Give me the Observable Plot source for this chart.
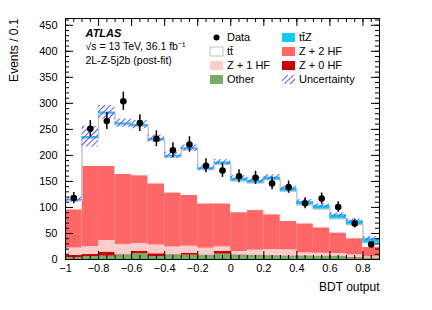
<!DOCTYPE html>
<html><head><meta charset="utf-8">
<script src="https://cdn.jsdelivr.net/npm/d3@7"></script>
<script src="https://cdn.jsdelivr.net/npm/@observablehq/plot@0.6"></script>
<style>body{margin:0;background:#fff;}</style>
</head><body><div id="chart"></div>
<script>
// ---- data ----
const binLow = [-1.0,-0.9,-0.8,-0.7,-0.6,-0.5,-0.4,-0.3,-0.2,-0.1,0.0,0.1,0.2,0.3,0.4,0.5,0.6,0.7,0.8];
const binWidth = 0.1;
const other   = [3.3,5.8,6.4,9.0,11.0,5.8,9.0,8.3,7.7,10.3,8.3,7.7,7.0,6.4,6.4,5.8,5.8,3.3,2.5];
const zPlus0HF= [4.4,3.8,7.6,0.5,4.4,5.2,0.5,3.7,0.8,5.1,0.7,0.6,0.5,0.6,0.6,0.7,0.6,0.7,0.5];
const zPlus1HF= [14.3,15.4,22.5,19.5,15.4,17.0,14.5,13.6,13.3,9.0,6.4,9.7,11.5,11.6,5.8,5.5,5.1,5.0,2.0];
const zPlus2HF= [73.5,154,142.5,134.5,130.2,117.5,104,97.4,85.2,82.6,74.6,76,67,54.4,55.8,49,39.5,31,18];
const ttbar   = [17.5,54,101,95.5,95,83.5,69,88,66,76,61,53,67,58,36.4,36,27.5,27,9];
const ttZ     = [2,3,3,3,3,3,3,3,3,4,5,5,5,6,6,6,7,7,8];
const uncertainty = [5,20,13,8,8,7,6,6,5,5,5,5,5,4,4,4,4,4,4];
const dataCounts = [118,251,266,304,262,232,210,221,180,171,160,157,146,139,108,117,101,69,29];

const xMajorTicks = [-1,-0.8,-0.6,-0.4,-0.2,0,0.2,0.4,0.6,0.8];
const yMajorTicks = [0,50,100,150,200,250,300,350,400,450];
const xMinorTicks = d3.range(-1, 0.9001, 0.05).map(v => +v.toFixed(2));
const yMinorTicks = d3.range(0, 461, 10);

const seriesOrder = [
  {name: "Other",   values: other,    fill: "#78ad68"},
  {name: "Z + 0 HF",values: zPlus0HF, fill: "#cc0000"},
  {name: "Z + 1 HF",values: zPlus1HF, fill: "#ffcccc"},
  {name: "Z + 2 HF",values: zPlus2HF, fill: "#ff6666"},
  {name: "tt̄",      values: ttbar,    fill: "#ffffff"},
  {name: "tt̄Z",     values: ttZ,      fill: "#14c8ff"}
];

// cumulative stack
const rects = [];
const tops = binLow.map(() => 0);
seriesOrder.forEach(s => {
  binLow.forEach((lo, i) => {
    const y1 = tops[i];
    const y2 = y1 + s.values[i];
    rects.push({series: s.name, fill: s.fill, x1: lo, x2: +(lo + binWidth).toFixed(2), y1, y2});
    tops[i] = y2;
  });
});
const ttbarTop = binLow.map((lo, i) => tops[i] - ttZ[i]);
const stepPts = binLow.map((lo, i) => ({x: lo, y: ttbarTop[i]}));
stepPts.push({x: +(binLow[binLow.length-1] + binWidth).toFixed(2), y: ttbarTop[ttbarTop.length-1]});
const band = binLow.map((lo, i) => ({x1: lo, x2: +(lo + binWidth).toFixed(2), y1: tops[i] - uncertainty[i], y2: tops[i] + uncertainty[i]}));
const points = binLow.map((lo, i) => ({x: +(lo + binWidth/2).toFixed(3), y: dataCounts[i], e: Math.sqrt(dataCounts[i])}));

const W = 432, H = 310, mL = 65, mR = 53, mT = 18, mB = 51;
const fw = W - mL - mR, fh = H - mT - mB;
const fmt = d3.format("");
const hatchColor = "#5a5aff";

const plot = Plot.plot({
  width: W, height: H,
  marginLeft: mL, marginRight: mR, marginTop: mT, marginBottom: mB,
  style: {fontFamily: "'Liberation Sans', Arial, sans-serif", fontSize: "11px", background: "white", color: "black"},
  x: {domain: [-1, 0.9]},
  y: {domain: [0, 463]},
  marks: [
    Plot.rect(rects, {x1: "x1", x2: "x2", y1: "y1", y2: "y2", fill: "fill"}),
    Plot.line(stepPts, {x: "x", y: "y", curve: "step-after", stroke: "#c8c8c8", strokeWidth: 1.5}),
    Plot.rect(rects.filter(r => r.series === "tt̄Z"), {x1: "x1", x2: "x2", y1: "y1", y2: "y2", fill: "fill"}),
    Plot.rect(band, {x1: "x1", x2: "x2", y1: "y1", y2: "y2", fill: "url(#hatchBlue)"}),
    Plot.ruleX(points, {x: "x", y1: d => d.y - d.e, y2: d => d.y + d.e, stroke: "black", strokeWidth: 1.5}),
    Plot.dot(points, {x: "x", y: "y", r: 3.3, fill: "black"}),
    // ticks (inside, all sides)
    Plot.ruleX(xMinorTicks, {insetTop: fh - 4, stroke: "black"}),
    Plot.ruleX(xMinorTicks, {insetBottom: fh - 4, stroke: "black"}),
    Plot.ruleX(xMajorTicks, {insetTop: fh - 8, stroke: "black"}),
    Plot.ruleX(xMajorTicks, {insetBottom: fh - 8, stroke: "black"}),
    Plot.ruleY(yMinorTicks, {insetRight: fw - 4, stroke: "black"}),
    Plot.ruleY(yMinorTicks, {insetLeft: fw - 4, stroke: "black"}),
    Plot.ruleY(yMajorTicks, {insetRight: fw - 8, stroke: "black"}),
    Plot.ruleY(yMajorTicks, {insetLeft: fw - 8, stroke: "black"}),
    Plot.frame({stroke: "black"}),
    Plot.axisX(xMajorTicks, {tickSize: 0, tickPadding: 5, tickFormat: fmt, label: null, fontSize: 11}),
    Plot.axisY(yMajorTicks, {tickSize: 0, tickPadding: 8, tickFormat: fmt, label: null, fontSize: 11}),
    Plot.text(["BDT output"], {text: d => d, frameAnchor: "bottom-right", dy: 28, textAnchor: "end", lineAnchor: "middle", fontSize: 12}),
    Plot.text(["Events / 0.1"], {text: d => d, frameAnchor: "top-left", dx: -51, dy: 0, rotate: -90, textAnchor: "end", lineAnchor: "middle", fontSize: 12}),
    Plot.text(["ATLAS"], {text: d => d, frameAnchor: "top-left", dx: 20, dy: 15, textAnchor: "start", lineAnchor: "middle", fontWeight: "bold", fontStyle: "italic", fontSize: 11}),
    Plot.text(["√s = 13 TeV, 36.1 fb⁻¹"], {text: d => d, frameAnchor: "top-left", dx: 20, dy: 28, textAnchor: "start", lineAnchor: "middle", fontSize: 10.5}),
    Plot.text(["2L-Z-5j2b (post-fit)"], {text: d => d, frameAnchor: "top-left", dx: 20, dy: 42, textAnchor: "start", lineAnchor: "middle", fontSize: 10.5})
  ]
});

// hatch pattern (blue diagonal lines)
const NS = "http://www.w3.org/2000/svg";
const defs = document.createElementNS(NS, "defs");
const pattern = document.createElementNS(NS, "pattern");
pattern.setAttribute("id", "hatchBlue");
pattern.setAttribute("patternUnits", "userSpaceOnUse");
pattern.setAttribute("width", "4");
pattern.setAttribute("height", "4");
pattern.setAttribute("patternTransform", "rotate(45)");
const line = document.createElementNS(NS, "rect");
line.setAttribute("x", "0"); line.setAttribute("y", "0");
line.setAttribute("width", "1"); line.setAttribute("height", "4");
line.setAttribute("style", `fill:${hatchColor};stroke:none`);
pattern.appendChild(line);
defs.appendChild(pattern);
plot.insertBefore(defs, plot.firstChild);

// legend
const svg = d3.select(plot);
const legendItems = [
  {col: 0, row: 0, label: "Data", kind: "dot"},
  {col: 0, row: 1, label: "tt̄", kind: "box", fill: "#ffffff", stroke: "#c4c4c4"},
  {col: 0, row: 2, label: "Z + 1 HF", kind: "box", fill: "#ffcccc"},
  {col: 0, row: 3, label: "Other", kind: "box", fill: "#78ad68"},
  {col: 1, row: 0, label: "tt̄Z", kind: "box", fill: "#14c8ff"},
  {col: 1, row: 1, label: "Z + 2 HF", kind: "box", fill: "#ff6666"},
  {col: 1, row: 2, label: "Z + 0 HF", kind: "box", fill: "#cc0000"},
  {col: 1, row: 3, label: "Uncertainty", kind: "box", fill: "url(#hatchBlue)"}
];
const colX = [210, 282];
const g = svg.append("g").attr("font-family", "'Liberation Sans', Arial, sans-serif").attr("font-size", 11).attr("text-anchor", "start");
legendItems.forEach(it => {
  const x = colX[it.col], cy = 37.5 + it.row * 14;
  if (it.kind === "dot") {
    g.append("circle").attr("cx", x + 6.5).attr("cy", cy).attr("r", 3).attr("fill", "black");
  } else {
    g.append("rect").attr("x", x).attr("y", cy - 4.5).attr("width", 13).attr("height", 9)
      .attr("fill", it.fill).attr("stroke", it.stroke || "none");
  }
  g.append("text").attr("x", x + 17).attr("y", cy).attr("dy", "0.35em").attr("text-anchor", "start").attr("fill", "black").text(it.label);
});

document.getElementById("chart").appendChild(plot);
</script>
</body></html>
